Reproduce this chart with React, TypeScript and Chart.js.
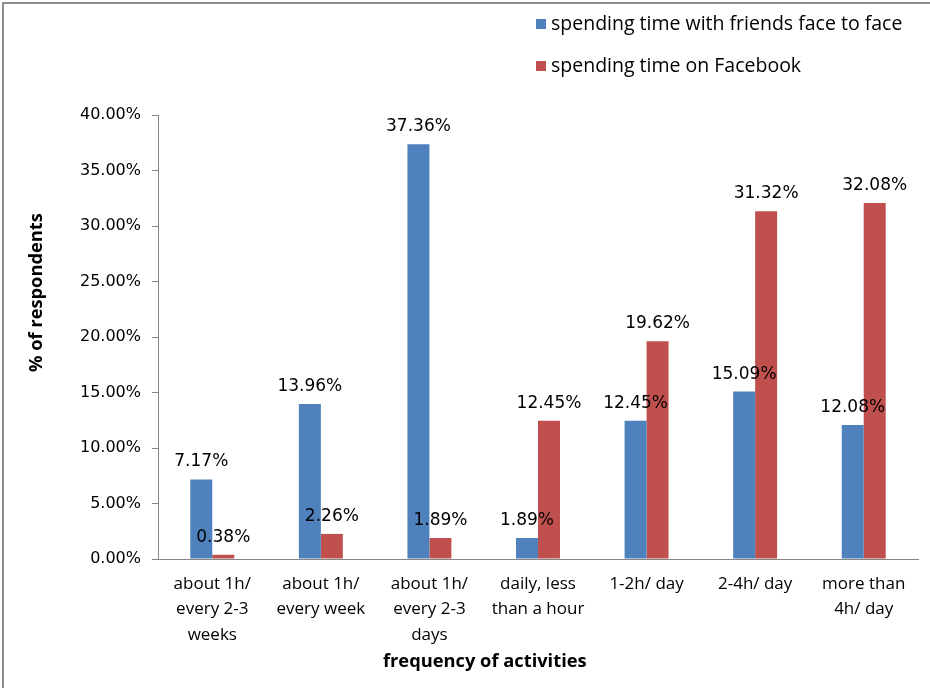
import React, { useEffect, useRef } from "react";
import { Chart, registerables } from "chart.js";

Chart.register(...registerables);

const categories: string[][] = [
  ["about 1h/", "every 2-3", "weeks"],
  ["about 1h/", "every week"],
  ["about 1h/", "every 2-3", "days"],
  ["daily, less", "than a hour"],
  ["1-2h/ day"],
  ["2-4h/ day"],
  ["more than", "4h/ day"],
];
const faceToFace: number[] = [7.17, 13.96, 37.36, 1.89, 12.45, 15.09, 12.08];
const onFacebook: number[] = [0.38, 2.26, 1.89, 12.45, 19.62, 31.32, 32.08];
const seriesNames: string[] = ["spending time with friends face to face", "spending time on Facebook"];
const seriesColors: string[] = ["#4F81BD", "#C0504D"];
const yTitle = "% of respondents";
const xTitle = "frequency of activities";

const LABEL_FONT = "17px 'DejaVu Sans'";
const AXIS_GRAY = "#868686";

const overlayPlugin = {
  id: "overlay",
  beforeDraw(chart: any) {
    const ctx = chart.ctx;
    ctx.save();
    ctx.fillStyle = "#ffffff";
    ctx.fillRect(0, 0, chart.width, chart.height);
    ctx.strokeStyle = "#8c8c8c";
    ctx.lineWidth = 2;
    ctx.beginPath();
    ctx.moveTo(3, chart.height + 5);
    ctx.lineTo(3, 3);
    ctx.lineTo(chart.width + 5, 3);
    ctx.stroke();
    ctx.restore();
  },
  afterDatasetsDraw(chart: any) {
    const ctx = chart.ctx;
    ctx.save();
    ctx.font = LABEL_FONT;
    ctx.fillStyle = "#000000";
    ctx.textAlign = "center";
    ctx.textBaseline = "alphabetic";
    chart.data.datasets.forEach((ds: any, di: number) => {
      const meta = chart.getDatasetMeta(di);
      meta.data.forEach((bar: any, i: number) => {
        const v = ds.data[i] as number;
        ctx.fillText(v.toFixed(2) + "%", bar.x, bar.y - 13);
      });
    });
    // legend
    ctx.textAlign = "left";
    ctx.textBaseline = "middle";
    ctx.font = "19.5px 'Open Sans'";
    seriesNames.forEach((name, i) => {
      const y = 24 + i * 42;
      ctx.fillStyle = seriesColors[i];
      ctx.fillRect(536, y - 5, 10, 10);
      ctx.fillStyle = "#000000";
      ctx.fillText(name, 551, y);
    });
    // axis titles
    const area = chart.chartArea;
    ctx.font = "bold 18.3px 'Open Sans'";
    ctx.textAlign = "center";
    ctx.textBaseline = "middle";
    ctx.fillText(xTitle, area.left + (area.right - area.left) * 0.43, 662);
    ctx.save();
    ctx.translate(37, area.top + (area.bottom - area.top) * 0.4);
    ctx.rotate(-Math.PI / 2);
    ctx.fillText(yTitle, 0, 0);
    ctx.restore();
    ctx.restore();
  },
};

export default function App() {
  const ref = useRef<HTMLCanvasElement | null>(null);
  useEffect(() => {
    document.body.style.margin = "0";
    const canvas = ref.current!;
    const chart = new Chart(canvas, {
      type: "bar",
      data: {
        labels: categories,
        datasets: [
          { label: seriesNames[0], data: faceToFace, backgroundColor: seriesColors[0], categoryPercentage: 0.405, barPercentage: 1 },
          { label: seriesNames[1], data: onFacebook, backgroundColor: seriesColors[1], categoryPercentage: 0.405, barPercentage: 1 },
        ],
      },
      plugins: [overlayPlugin],
      options: {
        responsive: false,
        animation: false,
        devicePixelRatio: 1,
        layout: { padding: { left: 0, top: 115, right: 12, bottom: 0 } },
        plugins: {
          legend: { display: false },
          tooltip: { enabled: false },
        },
        scales: {
          x: {
            grid: { display: false },
            border: { display: true, color: AXIS_GRAY, width: 1 },
            ticks: {
              color: "#000000",
              font: { family: "'Open Sans'", size: 17, lineHeight: 1.5 },
              maxRotation: 0,
              autoSkip: false,
              padding: 4,
            },
            afterFit: (scale: any) => {
              scale.height = 129;
            },
          },
          y: {
            min: 0,
            max: 40,
            grid: { drawOnChartArea: false, color: AXIS_GRAY, tickLength: 6 },
            border: { display: true, color: AXIS_GRAY, width: 1 },
            ticks: {
              stepSize: 5,
              color: "#000000",
              font: { family: "'DejaVu Sans'", size: 16 },
              padding: 11,
              callback: (v: any) => Number(v).toFixed(2) + "%",
            },
            afterFit: (scale: any) => {
              scale.width = 158;
            },
          },
        },
      },
    });
    return () => chart.destroy();
  }, []);
  return <canvas ref={ref} width={930} height={688} style={{ display: "block" }} />;
}
